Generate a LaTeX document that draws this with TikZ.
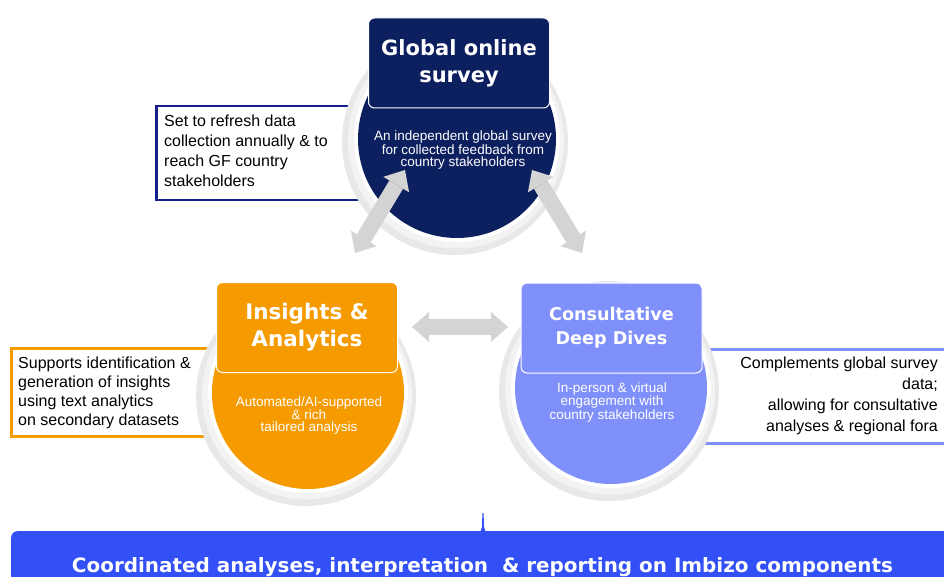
\documentclass[tikz,border=0pt]{standalone}
\usepackage{fontspec}
\setmainfont{Liberation Sans}
\newfontfamily\headfont{DejaVu Sans}
\usetikzlibrary{arrows.meta}
\definecolor{navy}{RGB}{12,31,94}
\definecolor{calnavy}{RGB}{22,32,140}
\definecolor{orng}{RGB}{245,155,0}
\definecolor{purp}{RGB}{128,144,250}
\definecolor{bannerblue}{RGB}{50,80,245}
\definecolor{agray}{RGB}{212,212,212}
\definecolor{haloA}{RGB}{232,232,232}
\definecolor{haloB}{RGB}{243,243,243}
\tikzset{
  callout/.style={draw, line width=2.5pt, fill=white, inner sep=0pt, anchor=north west},
  disc/.style={circle, inner sep=0pt, draw=none},
  titlebox/.style={rectangle, rounded corners=6pt, draw=white, line width=1pt, inner sep=0pt,
     minimum width=181pt, minimum height=90pt, text=white, align=center},
  circtext/.style={text=white, align=center, inner sep=0pt, font=\fontsize{13.5}{12}\selectfont},
  caltext/.style={inner sep=0pt, font=\fontsize{16}{20.3}\selectfont},
  garrow/.style={draw=agray, line width=16pt,
     {Triangle[width=30pt,length=17pt,line width=0pt]}-{Triangle[width=30pt,length=17pt,line width=0pt]}},
}
\begin{document}
\begin{tikzpicture}[x=1pt,y=-1pt]
\useasboundingbox (0,0) rectangle (944,577);
\clip (0,0) rectangle (944,577);
\fill[white] (0,0) rectangle (944,577);

% callout frames
\node[callout, draw=calnavy, minimum width=245pt, minimum height=94pt] (c1) at (155,105) {};
\node[callout, draw=orng, minimum width=240pt, minimum height=88pt] (c2) at (10,347) {};
\node[callout, draw=purp, minimum width=300pt, minimum height=94pt] (c3) at (660,348) {};

% halos
\node[disc, fill=haloA, minimum size=226pt] (h1a) at (455,142) {};
\node[disc, fill=haloB, minimum size=216pt] (h1b) at (456,140.5) {};
\node[disc, fill=white, minimum size=206pt] (h1c) at (457,139) {};
\node[disc, fill=haloA, minimum size=220pt] (h2a) at (306,396) {};
\node[disc, fill=haloB, minimum size=210pt] (h2b) at (307,394.5) {};
\node[disc, fill=white, minimum size=200pt] (h2c) at (308,393) {};
\node[disc, fill=haloA, minimum size=220pt] (h3a) at (609,391) {};
\node[disc, fill=haloB, minimum size=210pt] (h3b) at (610,389.5) {};
\node[disc, fill=white, minimum size=200pt] (h3c) at (611,388) {};

% coloured discs
\node[disc, fill=navy, minimum size=198pt] (d1) at (457,139) {};
\node[disc, fill=orng, minimum size=192pt] (d2) at (308,393) {};
\node[disc, fill=purp, minimum size=192pt] (d3) at (611,388) {};

% title boxes
\node[titlebox, fill=navy, font=\headfont\bfseries\fontsize{21}{27}\selectfont] (t1) at (459,63) {Global online\\survey};
\node[titlebox, fill=orng, font=\headfont\bfseries\fontsize{21.5}{27}\selectfont] (t2) at (307,327.5) {Insights \&\\Analytics};
\node[titlebox, fill=purp, font=\headfont\bfseries\fontsize{17.6}{24}\selectfont] (t3) at (611.5,328) {Consultative\\Deep Dives};

% block arrows
\coordinate (a1u) at (405,170);
\coordinate (a1l) at (355,253);
\coordinate (a2u) at (532,170);
\coordinate (a2l) at (582,253);
\coordinate (a3l) at (412,327);
\coordinate (a3r) at (508,327);
\draw[garrow] (a1l) -- (a1u);
\draw[garrow] (a2u) -- (a2l);
\draw[garrow] (a3l) -- (a3r);

% circle texts
\node[circtext] (x1) at (463,150.2) {An independent global survey\\for collected feedback from\\country stakeholders};
\node[circtext, font=\fontsize{13.5}{12.6}\selectfont] (x2) at (309,415.6) {Automated/AI-supported\\\& rich\\tailored analysis};
\node[circtext, font=\fontsize{13.5}{11.75}\selectfont] (x3) at (612,402.2) {In-person \& virtual\\engagement with\\country stakeholders};

% callout texts
\node[caltext, align=left, anchor=north west] (ct1) at (164,114.3) {Set to refresh data\\collection annually \& to\\reach GF country\\stakeholders};
\node[caltext, align=left, anchor=north west, font=\fontsize{16}{19}\selectfont] (ct2) at (18,356.8) {Supports identification \&\\generation of insights\\using text analytics\\on secondary datasets};
\node[caltext, align=right, anchor=north east, font=\fontsize{16}{21}\selectfont] (ct3) at (938,356.3) {Complements global survey\\data;\\allowing for consultative\\analyses \& regional fora};

% banner
\node[fill=bannerblue, rounded corners=6pt, minimum width=960pt, minimum height=70pt, inner sep=0pt, anchor=north west] (banner) at (11,531) {};
\fill[bannerblue] (480.5,531.5) -- (482,527) -- (482.4,513) -- (483.6,513) -- (484,527) -- (485.5,531.5) -- cycle;
\node[text=white, inner sep=0pt, anchor=base] (bt) at (482.5,572.5) {\resizebox{821pt}{15pt}{\headfont\bfseries Coordinated analyses, interpretation~ \& reporting on Imbizo components}};
\end{tikzpicture}
\end{document}
